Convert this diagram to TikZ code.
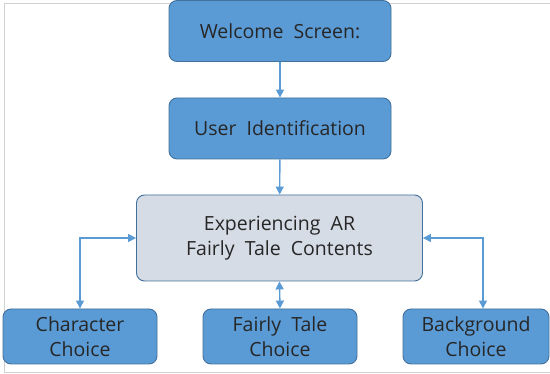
\documentclass[tikz,border=0pt]{standalone}
\usepackage{fontspec}
\setmainfont{Open Sans}[WordSpace=2]
\usetikzlibrary{arrows.meta}
\definecolor{boxblue}{HTML}{5B9BD5}
\definecolor{boxedge}{HTML}{41719C}
\definecolor{paleblue}{HTML}{D6DCE5}
\definecolor{inktext}{HTML}{262626}
\definecolor{framegray}{HTML}{D0D0D0}
\tikzset{
  flowbox/.style={draw=boxedge, line width=0.9pt, fill=boxblue, rounded corners=8pt,
    text=inktext, align=center, inner sep=0pt, font=\fontsize{19.5}{25}\selectfont},
  mainbox/.style={flowbox, fill=paleblue},
  link/.style={draw=boxblue, line width=1.4pt, -{Triangle[length=8pt,width=8pt]}},
  duallink/.style={draw=boxblue, line width=1.4pt, {Triangle[length=8pt,width=8pt]}-{Triangle[length=8pt,width=8pt]}}
}
\begin{document}
\begin{tikzpicture}[x=1pt,y=-1pt]
  \useasboundingbox (0,0) rectangle (550,374);
  \begin{scope}
    \clip (0,0) rectangle (550,374);
    % outer frame
    \draw[framegray, line width=0.8pt] (4,3) rectangle (570,372);

    \node[flowbox, minimum width=222pt, minimum height=61pt] (welcome) at (280,31) {Welcome Screen:};
    \node[flowbox, minimum width=222pt, minimum height=61pt] (user) at (280,128.5) {User Identification};
    \node[mainbox, minimum width=286pt, minimum height=86pt] (exp) at (279.5,238) {Experiencing AR\\Fairly Tale Contents};
    \node[flowbox, minimum width=154pt, minimum height=55pt] (char) at (80,336.5) {Character\\Choice};
    \node[flowbox, minimum width=154pt, minimum height=55pt] (fairy) at (280,336.5) {Fairly Tale\\Choice};
    \node[flowbox, minimum width=146pt, minimum height=55pt] (bg) at (476,336.5) {Background\\Choice};

    \draw[link] (welcome) -- (user);
    \draw[link] (user) -- (exp);
    \draw[duallink] (exp.west) -| (char.north);
    \draw[duallink] (exp.south) -- (fairy.north);
    \draw[duallink] (exp.east) -| ([xshift=7pt]bg.north);
  \end{scope}
\end{tikzpicture}
\end{document}
